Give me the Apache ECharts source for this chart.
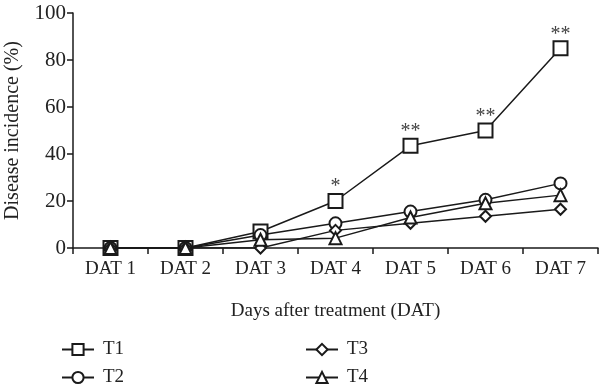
<!DOCTYPE html>
<html><head><meta charset="utf-8">
<script src="https://cdn.jsdelivr.net/npm/echarts@6/dist/echarts.min.js"></script>
<style>html,body{margin:0;padding:0;background:#fff}#c{width:600px;height:390px}</style>
</head><body><div id="c"></div>
<script>
var categories = ["DAT 1","DAT 2","DAT 3","DAT 4","DAT 5","DAT 6","DAT 7"];
var t1 = [0, 0, 7, 20, 43.5, 50, 85];
var t2 = [0, 0, 5.5, 10.5, 15.5, 20.5, 27.5];
var t3 = [0, 0, 0, 7.5, 10.5, 13.5, 16.5];
var t4 = [0, 0, 3.5, 4.2, 13, 19, 22.5];
var t1Marks = ["", "", "", "*", "**", "**", "**"];
var yTicks = [0, 20, 40, 60, 80, 100];

var font = "Liberation Serif";
var col = "#1a1a1a";
function ser(name, data, sym, size, labels) {
  var s = {
    name: name, type: "line", data: data, symbol: sym, symbolSize: size,
    lineStyle: {color: col, width: 1.5}, itemStyle: {color: col, borderColor: col, borderWidth: 1.5},
    z: 3
  };
  if (labels) {
    s.label = {show: true, position: "top", distance: 6, offset: [0, 10], fontFamily: font, fontSize: 20, color: "#444",
      formatter: function(p){ return labels[p.dataIndex]; }};
  }
  return s;
}
function leg(name, left, top) {
  return {data: [name], orient: "horizontal", left: left, top: top, itemWidth: 32, itemHeight: 14,
    padding: 0, textStyle: {fontFamily: font, fontSize: 19, color: "#222", padding: [0, 0, 0, 4]}};
}
var chart = echarts.init(document.getElementById("c"));
chart.setOption({
  animation: false,
  grid: {left: 73, right: 2, top: 13, bottom: 142, outerBoundsMode: "none", containLabel: false},
  xAxis: {
    type: "category", data: categories, boundaryGap: true,
    axisLine: {lineStyle: {color: col, width: 1.5}},
    axisTick: {show: true, inside: false, length: 6, lineStyle: {color: col, width: 1.5}},
    axisLabel: {fontFamily: font, fontSize: 19, color: "#222", margin: 12},
    name: "Days after treatment (DAT)", nameLocation: "middle", nameGap: 54, nameMoveOverlap: false,
    nameTextStyle: {fontFamily: font, fontSize: 19, color: "#222"}
  },
  yAxis: {
    type: "value", min: 0, max: 100, interval: 20,
    axisLine: {show: true, lineStyle: {color: col, width: 1.5}},
    axisTick: {show: true, length: 6, lineStyle: {color: col, width: 1.5}},
    splitLine: {show: false},
    axisLabel: {fontFamily: font, fontSize: 21, color: "#222", margin: 7,
      formatter: function(v){ return yTicks.indexOf(v) >= 0 ? String(v) : ""; }},
    name: "Disease incidence (%)", nameLocation: "middle", nameGap: 50, nameMoveOverlap: false,
    nameTextStyle: {fontFamily: font, fontSize: 20, color: "#222"}
  },
  legend: [
    leg("T1", 61, 340),
    leg("T2", 61, 368),
    leg("T3", 305, 340),
    leg("T4", 305, 368)
  ],
  series: [
    ser("T1", t1, "emptyRect", 14, t1Marks),
    ser("T2", t2, "emptyCircle", 12),
    ser("T3", t3, "emptyDiamond", 11),
    ser("T4", t4, "emptyTriangle", 12)
  ]
});
</script></body></html>
